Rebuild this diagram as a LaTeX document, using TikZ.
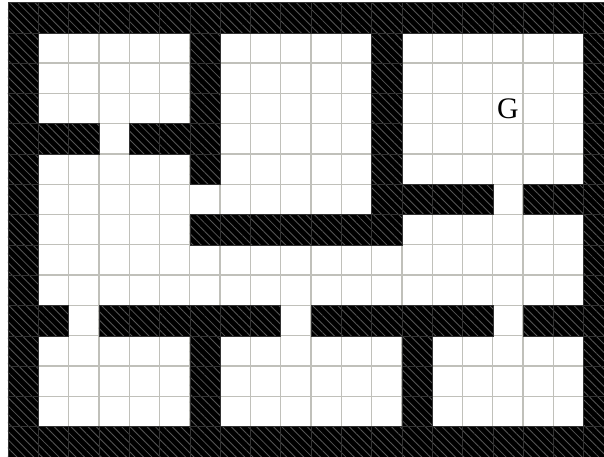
\documentclass[tikz,border=0pt]{standalone}
\usepackage{fontspec}
\setmainfont{Liberation Serif}
\usetikzlibrary{patterns.meta}

\tikzset{
  floorcell/.style={draw=gridgray,line width=1.2pt,fill=white},
  wallcell/.style={draw=wallgray,line width=0.4pt,preaction={fill=black},
    pattern={Lines[angle=-45,distance=5.6pt,line width=0.8pt]},pattern color=stripegray},
}
\definecolor{gridgray}{RGB}{192,192,186}
\definecolor{wallgray}{RGB}{50,50,50}
\definecolor{stripegray}{RGB}{85,85,85}

\begin{document}
\begin{tikzpicture}
\useasboundingbox (-0.264,0) rectangle (19.67,15.08);
\clip (-0.264,0) rectangle (19.67,15.08);

% floor
\foreach \col in {1,...,18}
  \foreach \row in {1,...,13}
    \draw[floorcell] (\col,14-\row) rectangle +(1,1);

% outer walls
\foreach \col in {0,...,19} {
  \draw[wallcell] (\col,14) rectangle +(1,1);
  \draw[wallcell] (\col,0) rectangle +(1,1);
}
\foreach \row in {1,...,13} {
  \draw[wallcell] (0,14-\row) rectangle +(1,1);
  \draw[wallcell] (19,14-\row) rectangle +(1,1);
}

% inner walls, row/columns
\foreach \row/\cols in {1/{6,12},2/{6,12},3/{6,12},
  4/{1,2,4,5,6,12},5/{6,12},6/{12,13,14,15,17,18},
  7/{6,7,8,9,10,11,12},
  10/{1,3,4,5,6,7,8,10,11,12,13,14,15,17,18},
  11/{6,13},12/{6,13},13/{6,13}}
  \foreach \col in \cols
    \draw[wallcell] (\col,14-\row) rectangle +(1,1);

\node[font=\fontsize{28}{28}\selectfont,inner sep=0pt] (goal) at (16.5,11.49) {G};
\end{tikzpicture}
\end{document}
